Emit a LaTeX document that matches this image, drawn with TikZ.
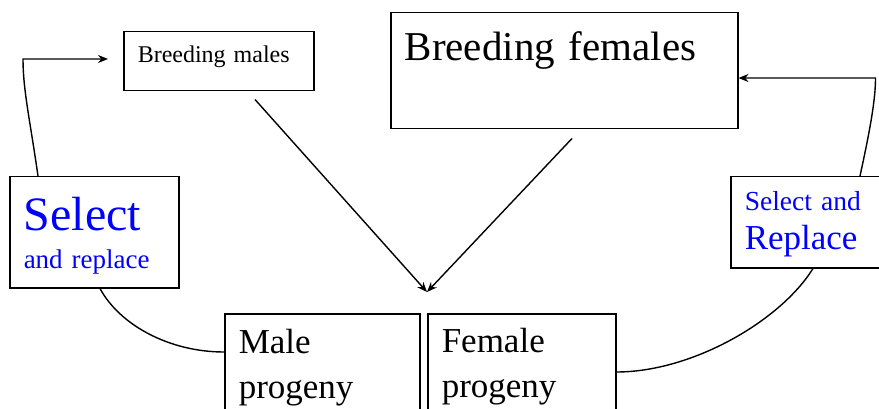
\documentclass[tikz,border=0pt]{standalone}
\usepackage{fontspec}
\setmainfont{Liberation Serif}
\usetikzlibrary{positioning,calc,arrows.meta}
\colorlet{colorSel}{blue}
\tikzset{
   every path/.style={>={Stealth[length=10pt,width=8pt]}},
   box/.style={draw,rectangle,anchor=north west,align=left,inner xsep=14pt,inner ysep=0pt,line width=1.5pt},
   sel/.style={text=colorSel},
   mate/.style={->,line width=1.4pt},
   back/.style={-,line width=1.4pt},
   backin/.style={->,line width=1.4pt},
}

\begin{document}
\begin{tikzpicture}[x=1pt,y=-1pt]
      \useasboundingbox (0,0) rectangle (879,409);

      % breeding stock
      \node (bm) [box, text width=162pt, text height=31pt, text depth=28pt,
        font=\fontsize{24}{29}\selectfont]
        at (123,31) {Breeding males};

      \node (bf) [box, text width=319pt, text height=48pt, text depth=68pt,
        font=\fontsize{41}{48}\selectfont]
        at (390,12) {Breeding females};

      % progeny
      \node (mp) [box, text width=167pt, text height=40pt, text depth=100pt,
        font=\fontsize{35}{45}\selectfont]
        at (224,313) {Male\\progeny};

      \node (fp) [box, text width=160pt, text height=39pt, text depth=100pt,
        font=\fontsize{35}{45}\selectfont]
        at (427,313) {Female\\progeny};

      % selection
      \node (srl) [box, sel, text width=141pt, text height=54pt, text depth=57pt,
        font=\fontsize{27}{38}\selectfont]
        at (9,176) {{\fontsize{48}{48}\selectfont Select}\\and replace};

      \node (srr) [box, sel, text width=127pt, text height=34pt, text depth=57pt,
        font=\fontsize{27.5}{39}\selectfont]
        at (730,176) {Select and\\{\fontsize{35}{39}\selectfont Replace}};

      \coordinate (meet) at ($(fp.north west)+(0,-21)$);

      \draw[mate] ($(bm.south west)+(132,8)$) -- (meet);
      \draw[mate] ($(bf.south west)+(182,9)$) -- (meet);

      % loops back to the breeding stock
      \draw[back] ($(srl.south west)+(91,0)$)
        .. controls +(20,37) and +(-54,0) .. ($(mp.north west)+(0,39)$);
      \draw[backin] ($(srl.north west)+(29,0)$)
        .. controls +(-8,-56) and +(0,31) .. ($(bm.north west)+(-100,28)$)
        -- ($(bm.north west)+(-15,28)$);

      \draw[back] ($(fp.north east)+(0,59)$)
        .. controls +(75,0) and +(-33,53) .. ($(srr.south west)+(83,0)$);
      \draw[backin] ($(srr.north west)+(130,0)$)
        .. controls +(10,-46) and +(0,22) .. ($(bf.north east)+(137,66)$)
        -- ($(bf.north east)+(0,66)$);
\end{tikzpicture}
\end{document}
